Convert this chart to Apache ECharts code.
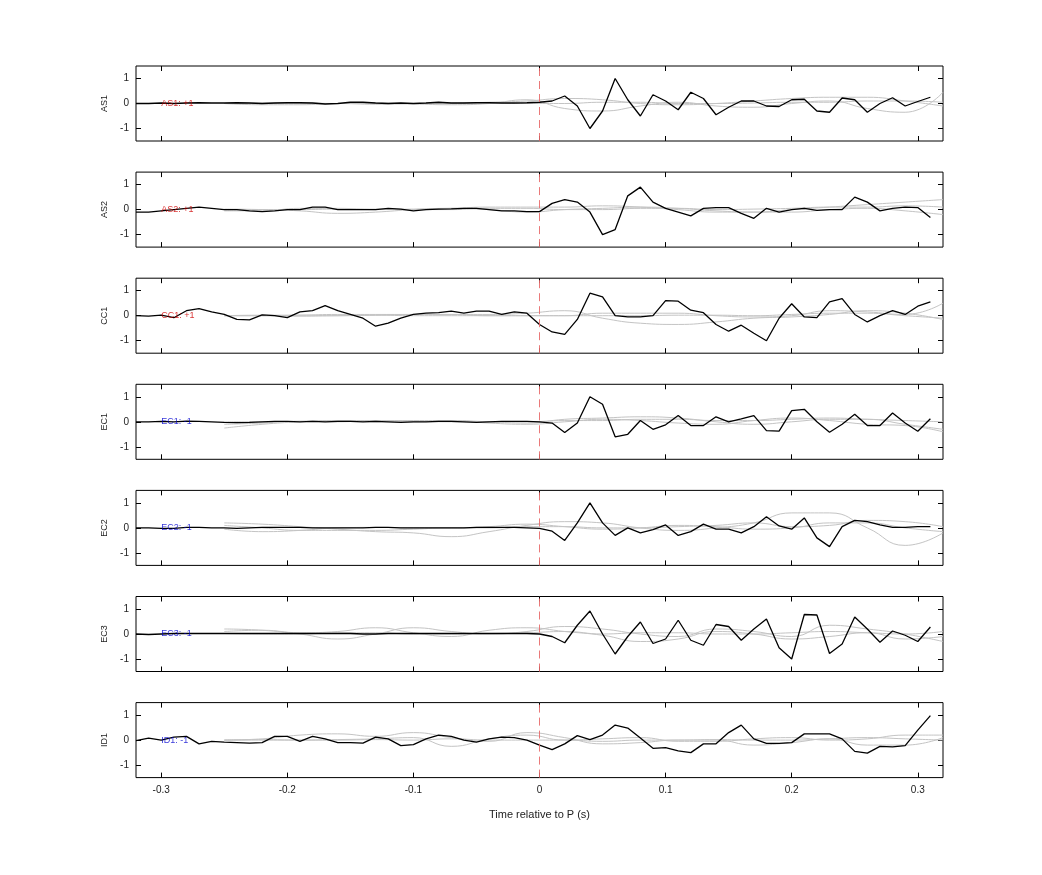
<!DOCTYPE html>
<html><head><meta charset="utf-8">
<script src="https://cdn.jsdelivr.net/npm/echarts@6/dist/echarts.min.js"></script>
<style>html,body{margin:0;padding:0;background:#fff}#c{width:1042px;height:875px}</style>
</head><body><div id="c"></div>
<script>
const channels = ['AS1','AS2','CC1','EC1','EC2','EC3','ID1'];
const labels = ['AS1: +1','AS2: +1','CC1: +1','EC1: -1','EC2: -1','EC3: -1','ID1: -1'];
const labelColors = ['#d00000','#d00000','#d00000','#0000d0','#0000d0','#0000d0','#0000d0'];
const xTicks = [-0.3,-0.2,-0.1,0,0.1,0.2,0.3];
const yTicks = [-1,0,1];
// black trace: t = -0.32 ... 0.31 step 0.01
const tBlack = Array.from({length:64},(_, i)=>+(-0.32+i*0.01).toFixed(2));
const AS1 = [0,0,0.02,0,0.02,0.03,0.02,0.02,0.03,0.02,0,0.02,0.03,0.03,0.02,-0.02,0,0.05,0.05,0.02,0,0.02,0,0.02,0.05,0.02,0.02,0.03,0.03,0.02,0.02,0.03,
 0.05,0.1,0.3,-0.1,-1,-0.3,1,0.15,-0.5,0.35,0.1,-0.25,0.45,0.2,-0.45,-0.15,0.1,0.1,-0.1,-0.12,0.15,0.17,-0.3,-0.35,0.22,0.15,-0.35,0,0.23,-0.1,0.08,0.25];
const AS2 = [-0.1,-0.1,-0.05,0,0.05,0.1,0.05,0,0,-0.05,-0.08,-0.05,0,0,0.1,0.1,0,0,0,0,0.05,0.02,-0.05,0,0.02,0.03,0.05,0.05,0,-0.05,-0.05,-0.08,
 -0.08,0.25,0.4,0.3,-0.1,-1,-0.8,0.55,0.9,0.3,0.05,-0.1,-0.25,0.05,0.08,0.08,-0.15,-0.35,0.05,-0.1,0,0.05,-0.03,0,0,0.5,0.3,-0.05,0.05,0.1,0.08,-0.32];
const CC1 = [0,-0.02,0.02,-0.08,0.2,0.28,0.15,0.05,-0.15,-0.17,0.03,0,-0.08,0.15,0.2,0.4,0.2,0.05,-0.1,-0.42,-0.3,-0.1,0.05,0.1,0.12,0.18,0.1,0.18,0.18,0.05,0.15,0.1,
 -0.35,-0.65,-0.75,-0.15,0.9,0.75,0,-0.05,-0.05,0,0.6,0.58,0.22,0.12,-0.35,-0.62,-0.38,-0.7,-1,-0.1,0.48,-0.05,-0.08,0.55,0.68,0.05,-0.25,0,0.2,0.05,0.38,0.55];
const EC1 = [0,0,0.02,0,0.03,0.02,0,-0.02,-0.03,-0.02,0,0.02,0.02,0,0.02,0,0.02,0.02,0,0.02,0,-0.02,0,0,0.02,0.02,0,-0.02,0,0.02,0.02,0.02,
 0,-0.05,-0.43,-0.05,1,0.7,-0.6,-0.5,0.05,-0.3,-0.12,0.25,-0.15,-0.15,0.2,0,0.12,0.25,-0.35,-0.37,0.45,0.5,0,-0.42,-0.1,0.3,-0.15,-0.15,0.35,-0.05,-0.38,0.12];
const EC2 = [0,0,-0.02,-0.02,0.02,0.02,0,0,-0.02,0,0.02,0.02,0.02,0.02,0,0,0,0,0,0.02,0.02,0,0,0,0,0,0,0.02,0.02,0.02,0.02,0,
 -0.02,-0.13,-0.5,0.2,1,0.2,-0.3,0,-0.2,-0.07,0.12,-0.3,-0.15,0.15,-0.05,-0.05,-0.2,0.05,0.45,0.08,-0.05,0.4,-0.4,-0.75,0.05,0.3,0.25,0.12,0.02,0.02,0.05,0.05];
const EC3 = [0,-0.02,0,0.02,0.02,0.02,0.02,0.02,0.02,0.02,0.02,0.02,0.02,0.02,0.02,0.02,0.02,0.02,0,0,0.02,0.02,0.02,0.02,0.02,0.02,0.02,0.02,0.02,0.02,0.02,0.02,
 0,-0.1,-0.35,0.35,0.92,0,-0.8,-0.1,0.48,-0.38,-0.2,0.55,-0.25,-0.45,0.38,0.3,-0.25,0.2,0.6,-0.55,-1,0.78,0.76,-0.78,-0.4,0.68,0.2,-0.33,0.12,-0.05,-0.3,0.28];
const ID1 = [-0.02,0.08,0,0.12,0.15,-0.15,-0.05,-0.08,-0.1,-0.12,-0.1,0.15,0.15,-0.05,0.15,0.05,-0.1,-0.1,-0.12,0.12,0.05,-0.22,-0.18,0.05,0.2,0.15,0,-0.08,0.05,0.12,0.1,0,
 -0.2,-0.38,-0.15,0.18,0.02,0.2,0.6,0.48,0.08,-0.33,-0.3,-0.43,-0.5,-0.15,-0.15,0.3,0.6,0.05,-0.13,-0.13,-0.1,0.25,0.25,0.25,0.05,-0.45,-0.52,-0.25,-0.27,-0.22,0.4,0.98];
const blackData = [AS1,AS2,CC1,EC1,EC2,EC3,ID1];
// gray traces: t = -0.25 ... 0.32 step 0.03 (smoothed)
const tGray = [-0.25,-0.22,-0.19,-0.16,-0.13,-0.1,-0.07,-0.04,-0.01,0.02,0.05,0.08,0.11,0.14,0.17,0.2,0.23,0.26,0.29,0.32];
const grayData = [
 [[0,-0.05,-0.05,0,-0.03,0,0.02,0.05,0.1,0.2,0.15,0,-0.05,0,0.1,0.2,0.25,0.25,0.1,-0.1],
  [0,0,0.02,0,0,-0.02,-0.05,0,0.15,-0.2,-0.3,-0.1,0.05,-0.1,-0.15,0,0.1,-0.2,-0.35,0.45],
  [0,0.02,0,0,0.02,0,0,0.02,0,0,0.05,0.05,0,0,0.02,0.05,0.05,0.1,0.1,0.05]],
 [[-0.05,-0.05,0.05,0.05,0,0.02,0.05,0.1,0.1,0.1,0.15,0.1,0,-0.1,-0.1,0,0.1,0.2,0.3,0.4],
  [0.02,0,-0.05,-0.15,-0.1,0,0.05,0,-0.1,0,0.05,0.1,0.05,-0.05,-0.1,-0.1,0,0.05,-0.05,-0.2],
  [0,0,0,0.02,0.02,0,0,0.05,0.05,0,0,0.05,0.05,0,0.02,0.05,0.1,0.1,0.15,0.1]],
 [[0,0,0.02,0.05,0.05,0.05,0.05,0.05,0.1,0.2,-0.1,-0.3,-0.35,-0.25,-0.1,-0.05,0.05,0.2,0.1,-0.15],
  [0,0,-0.02,0,0.02,0,0,0,0,0,0.1,0.1,0.1,0,-0.05,0,0.2,0.15,0.05,0.5],
  [0,0.02,0.02,0,0.02,0.05,0.05,0,0,0,0,0,0.02,0.02,0,0.05,0.1,0.1,0,-0.1]],
 [[-0.25,-0.1,0,0.05,0,0,0.05,0,-0.05,0.1,0.15,0.2,0.15,0,-0.1,0,0.1,0.1,-0.1,-0.3],
  [-0.1,-0.05,0.02,0,0.05,0.05,0.05,-0.05,-0.1,0,0.1,0.05,-0.05,-0.1,0.05,0.15,0.05,-0.1,-0.15,-0.4],
  [0,0,0.02,0.05,0.05,0.02,0,0,0,0.05,0.05,0.1,0.1,0.05,0.05,0.1,0.15,0.1,0.05,0]],
 [[0.2,0.15,0.05,-0.05,-0.15,-0.2,-0.35,-0.15,0.1,0.25,0.2,0,-0.1,0,0.2,0.6,0.6,0,-0.7,-0.2],
  [0.1,0,-0.1,-0.1,-0.1,-0.05,0,0,0.05,0.05,0,0,0.05,0.1,0.2,0.05,0.1,0.3,0.25,0.05],
  [-0.05,-0.15,-0.1,0,0.02,0,0,0.05,0.15,0.05,-0.05,0,0.1,0.05,-0.05,0,0.2,0.2,0,-0.15]],
 [[0.2,0.15,0,-0.2,0,0.25,0.1,0,0.1,0.3,0.2,0,-0.1,0.2,0.1,-0.1,0.35,0.2,0,-0.3],
  [0.1,0.15,0.05,0.1,0.25,0.05,-0.1,0.15,0.25,0.1,-0.05,-0.3,-0.2,0.1,0,-0.2,-0.1,0.05,-0.2,-0.1],
  [0.02,0,0,0.05,0.05,0,0,0.02,0.05,0.1,0,0.05,0.05,0,0,0.05,0.1,0.05,0,0.1]],
 [[0,0.05,0.2,0.25,0.15,0.3,0.1,-0.05,0.3,0.1,-0.15,-0.1,0,0,-0.2,-0.1,0.05,-0.2,-0.2,0.1],
  [0,0,0,0.02,0.05,0.1,-0.25,0.05,0.2,0,0.05,0.1,-0.05,-0.05,0.05,0.1,0,0.05,0.2,0.2],
  [0,0.02,0,0,0.02,0,0.05,0,0,0,-0.05,0,0,0.02,0,0,0.05,0.1,0.05,0]]
];

const panelTop = 66, panelStep = 106.1, panelH = 75;
const grids=[], xAxes=[], yAxes=[], series=[];
const tick = v => ({inside:true,length:5,lineStyle:{color:'#000'},customValues:v});
channels.forEach((ch,i)=>{
  const last = i===channels.length-1;
  grids.push({left:136,width:807,top:panelTop+i*panelStep,height:panelH,show:true,borderColor:'#000',borderWidth:1,backgroundColor:'#fff'});
  const common = {type:'value',min:-0.32,max:0.32,gridIndex:i,splitLine:{show:false},axisLine:{show:false,onZero:false}};
  xAxes.push(Object.assign({},common,{position:'bottom',axisTick:tick(xTicks),
    axisLabel:{show:last,customValues:xTicks,color:'#222',fontSize:10,fontFamily:'Liberation Sans',margin:8,formatter:v=>String(+v.toFixed(2))},
    name:last?'Time relative to P (s)':'',nameLocation:'middle',nameGap:32,nameTextStyle:{color:'#222',fontSize:11,fontFamily:'Liberation Sans'}}));
  xAxes.push(Object.assign({},common,{position:'top',axisTick:tick(xTicks),axisLabel:{show:false}}));
  const yc = {type:'value',min:-1.5,max:1.5,gridIndex:i,splitLine:{show:false},axisLine:{show:false,onZero:false}};
  yAxes.push(Object.assign({},yc,{position:'left',axisTick:tick(yTicks),
    axisLabel:{customValues:yTicks,color:'#222',fontSize:10,fontFamily:'Liberation Sans',margin:7},
    name:ch,nameLocation:'middle',nameGap:26,nameRotate:90,nameTextStyle:{color:'#222',fontSize:9,fontFamily:'Liberation Sans'}}));
  yAxes.push(Object.assign({},yc,{position:'right',axisTick:tick(yTicks),axisLabel:{show:false}}));
  grayData[i].forEach(g=>{
    series.push({type:'line',xAxisIndex:2*i,yAxisIndex:2*i,data:tGray.map((t,k)=>[t,g[k]]),smooth:0.5,symbol:'none',
      lineStyle:{color:'#c4c4c4',width:1},z:1,silent:true,clip:true});
  });
  series.push({type:'line',xAxisIndex:2*i,yAxisIndex:2*i,data:tBlack.map((t,k)=>[t,blackData[i][k]]),symbol:'none',
    lineStyle:{color:'#000',width:1.3},z:3,silent:true,
    markLine:{silent:true,symbol:'none',label:{show:false},lineStyle:{color:'#e86a6a',type:[8,5],width:1,opacity:0.9},data:[{xAxis:0}]}});
  series.push({type:'scatter',xAxisIndex:2*i,yAxisIndex:2*i,data:[[-0.3,0]],symbolSize:0,z:4,silent:true,
    label:{show:true,position:'right',distance:0,formatter:labels[i],color:labelColors[i],fontSize:9,fontFamily:'Liberation Sans'}});
});
const chart = echarts.init(document.getElementById('c'),null,{renderer:'canvas'});
chart.setOption({animation:false,backgroundColor:'#fff',grid:grids,xAxis:xAxes,yAxis:yAxes,series:series});
</script></body></html>
